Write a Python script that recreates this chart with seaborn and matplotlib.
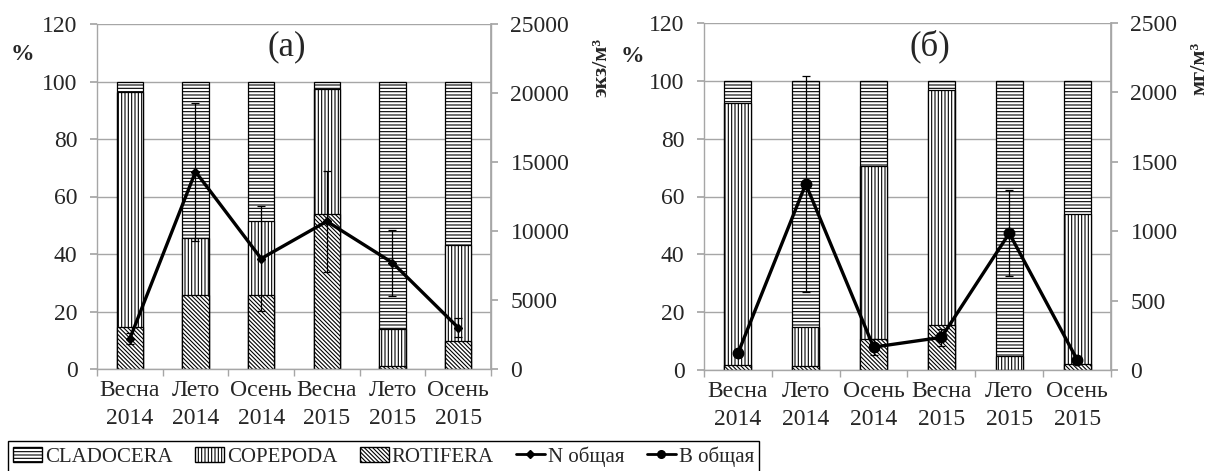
import numpy as np
import matplotlib
matplotlib.use("Agg")
import matplotlib.pyplot as plt
import seaborn as sns
from matplotlib.patches import Patch
from matplotlib.lines import Line2D

# ---------------- data ----------------
categories = ["Весна\n2014", "Лето\n2014", "Осень\n2014", "Весна\n2015", "Лето\n2015", "Осень\n2015"]

# (a) abundance structure, %
rot_a = [14.7, 25.8, 25.8, 53.9, 1.2, 9.9]
cop_a = [81.6, 19.7, 25.8, 43.5, 12.7, 33.3]
clad_a = [3.7, 54.5, 48.4, 2.6, 86.1, 56.8]
n_total = [2200, 14300, 8000, 10700, 7700, 3000]
n_err = [400, 5000, 3800, 3650, 2400, 700]

# (б) biomass structure, %
rot_b = [1.9, 1.5, 10.7, 15.6, 0.0, 2.0]
cop_b = [90.3, 13.3, 59.9, 81.3, 4.9, 52.0]
clad_b = [7.8, 85.2, 29.4, 3.1, 95.1, 46.0]
b_total = [120, 1340, 165, 235, 985, 75]
b_err = [20, 780, 55, 60, 310, 15]

series_names = ["CLADOCERA", "COPEPODA", "ROTIFERA"]
line_names = ["N общая", "B общая"]

# ---------------- style ----------------
sns.set_theme(style="whitegrid")
plt.rcParams["font.family"] = ["Liberation Serif", "DejaVu Serif"]
plt.rcParams["hatch.linewidth"] = 0.8
GRID = "#a6a6a6"
FS = 17

H_CLAD = "-----"
H_COP = "|||||"
H_ROT = "\\" * 8

fig = plt.figure(figsize=(12.15, 4.71), dpi=100)
axA = fig.add_axes([97/1215, 1-369/471, (491-97)/1215, (369-24)/471])
axB = fig.add_axes([704/1215, 1-370/471, (1111-704)/1215, (370-23)/471])


def draw_panel(ax, rot, cop, clad, tot, err, marker, ms, ymax2, step2, title, tx):
    rot = np.array(rot)
    cop = np.array(cop)
    clad = np.array(clad)
    tops = [(rot + cop + clad, H_CLAD), (rot + cop, H_COP), (rot, H_ROT)]
    for vals, h in tops:
        n0 = len(ax.patches)
        sns.barplot(x=categories, y=vals, ax=ax, color="white", edgecolor="black",
                    linewidth=0.9, width=0.4, saturation=1, errorbar=None)
        for p in ax.patches[n0:]:
            p.set_hatch(h)
            p.set_facecolor("white")
    ax.set_xlim(-0.5, 5.5)
    ax.set_ylim(0, 120)
    ax.set_yticks(np.arange(0, 121, 20))
    ax.grid(axis="y", color=GRID, linewidth=1)
    ax.grid(axis="x", visible=False)
    ax.set_axisbelow(True)
    for s in ["left", "bottom", "right"]:
        ax.spines[s].set_color(GRID)
        ax.spines[s].set_linewidth(1)
    ax.spines["top"].set_visible(False)
    ax.tick_params(axis="y", which="major", length=5, color=GRID, left=True, pad=9, labelsize=FS)
    ax.tick_params(axis="x", which="major", length=0, pad=8, labelsize=FS)
    ax.set_xticks(np.arange(-0.5, 6, 1), minor=True)
    ax.tick_params(axis="x", which="minor", length=5, color=GRID, bottom=True, direction="out")
    ax.set_xlabel("")
    ax.set_ylabel("")
    for t in ax.get_xticklabels():
        t.set_linespacing(1.45)

    ax2 = ax.twinx()
    ax2.grid(False)
    ax2.errorbar(np.arange(len(tot)), tot, yerr=err, color="black", lw=2.4,
                 marker=marker, ms=ms, mfc="black", mec="black",
                 ecolor="black", elinewidth=0.9, capsize=3, capthick=0.9, zorder=5)
    ax2.set_ylim(0, ymax2)
    ax2.set_yticks(np.arange(0, ymax2 + 1, step2))
    for s in ["left", "bottom", "right", "top"]:
        ax2.spines[s].set_visible(False)
    ax2.spines["right"].set_visible(True)
    ax2.spines["right"].set_color(GRID)
    ax2.tick_params(axis="y", length=5, color=GRID, right=True, pad=9, labelsize=FS)
    ax.text(tx, 0.933, title, transform=ax.transAxes, ha="center", va="center", fontsize=25)
    return ax2


draw_panel(axA, rot_a, cop_a, clad_a, n_total, n_err, "D", 4.5, 25000, 5000, "(а)", 0.482)
draw_panel(axB, rot_b, cop_b, clad_b, b_total, b_err, "o", 7.5, 2500, 500, "(б)", 0.555)

fig.text(22/1215, 1-55/471, "%", fontsize=17, fontweight="bold", ha="center", va="center")
fig.text(632/1215, 1-56/471, "%", fontsize=17, fontweight="bold", ha="center", va="center")
fig.text(601/1215, 1-67/471, "экз/м³", fontsize=16, fontweight="bold", rotation=90,
         ha="center", va="center")
fig.text(1199/1215, 1-68/471, "мг/м³", fontsize=16, fontweight="bold", rotation=90,
         ha="center", va="center")

handles = [
    Patch(facecolor="white", edgecolor="black", hatch=H_CLAD, label=series_names[0]),
    Patch(facecolor="white", edgecolor="black", hatch=H_COP, label=series_names[1]),
    Patch(facecolor="white", edgecolor="black", hatch=H_ROT, label=series_names[2]),
    Line2D([], [], color="black", lw=2, marker="D", ms=4, label=line_names[0]),
    Line2D([], [], color="black", lw=2, marker="o", ms=5.5, label=line_names[1]),
]
leg = fig.legend(handles=handles, ncol=5, loc="upper left",
                 bbox_to_anchor=(8/1215, 1-441/471), frameon=True, fancybox=False,
                 edgecolor="black", fontsize=15, handlelength=1.4, handleheight=0.7,
                 handletextpad=0.15, columnspacing=1.05, borderpad=0.25, borderaxespad=0)
leg.get_frame().set_linewidth(1)
leg.get_frame().set_alpha(1)

fig.savefig("out.png", dpi=100)
